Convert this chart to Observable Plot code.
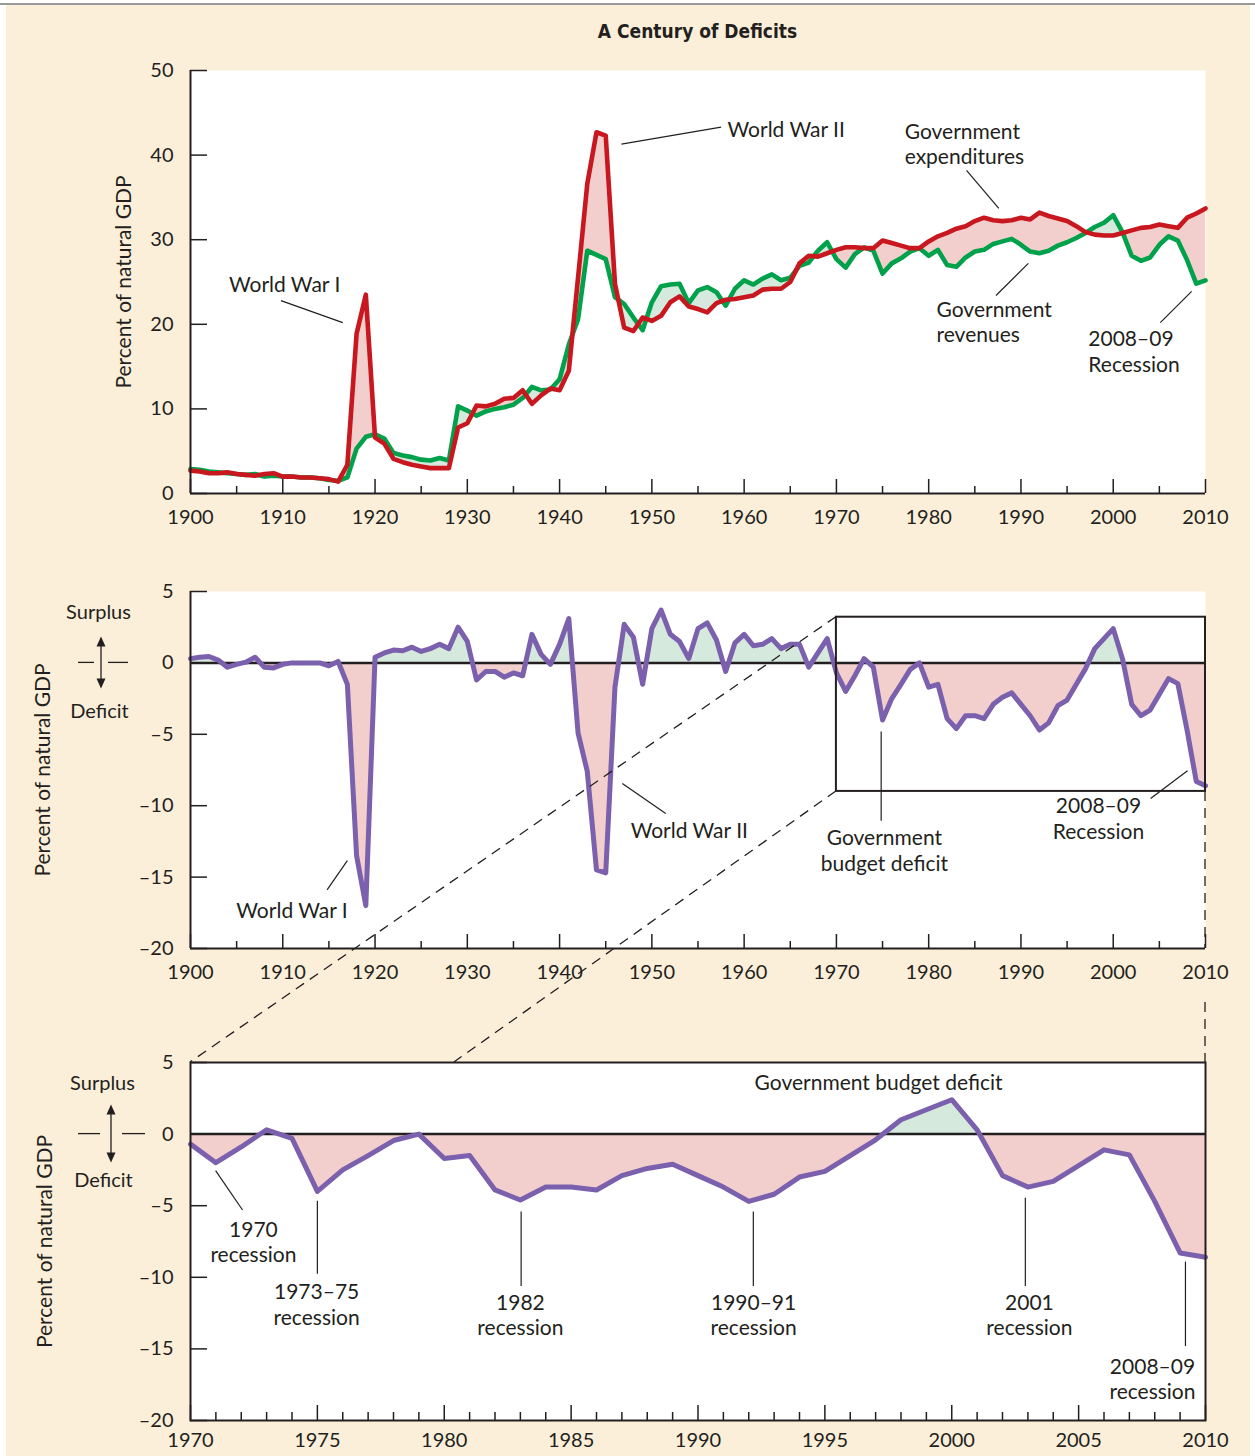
<!DOCTYPE html>
<html>
<head>
<meta charset="utf-8">
<script src="https://cdn.jsdelivr.net/npm/d3@7"></script>
<script src="https://cdn.jsdelivr.net/npm/@observablehq/plot@0.6"></script>
<style>
html, body { margin: 0; padding: 0; background: #ffffff; }
#page { position: relative; width: 1255px; height: 1456px; overflow: hidden; }
#bg { position: absolute; left: 6px; top: 5px; width: 1244px; height: 1451px; background: #fcefd9; }
#rule { position: absolute; left: 0; top: 3px; width: 1255px; height: 2px; background: #9a9a9a; }
#title { position: absolute; left: 190px; width: 1015px; top: 20px; line-height: 22px; text-align: center;
  font: bold 19px "Liberation Sans Narrow", "DejaVu Sans Condensed", sans-serif; color: #231f20; }
#page svg { position: absolute; left: 0; top: 0; }
</style>
</head>
<body>
<div id="page"><div id="bg"></div><div id="rule"></div><div id="title">A Century of Deficits</div></div>
<script>
// ---------------- DATA (percent of natural GDP) ----------------
const years = d3.range(1900, 2011);
const expenditures = [
  2.7, 2.6, 2.4, 2.4, 2.5, 2.3, 2.2, 2.1, 2.3, 2.4,
  2.0, 2.0, 1.9, 1.9, 1.8, 1.7, 1.4, 3.4, 18.9, 23.5,
  6.6, 5.9, 4.1, 3.7, 3.4, 3.2, 3.0, 3.0, 3.0, 7.8,
  8.3, 10.4, 10.3, 10.6, 11.2, 11.3, 12.2, 10.6, 11.6, 12.4,
  12.2, 14.5, 25.5, 36.6, 42.7, 42.3, 24.8, 19.6, 19.2, 20.8,
  20.4, 21.0, 22.6, 23.3, 22.1, 21.8, 21.4, 22.5, 22.9, 23.0,
  23.2, 23.4, 24.1, 24.2, 24.2, 25.0, 27.2, 28.1, 28.0, 28.4,
  28.8, 29.1, 29.1, 29.0, 29.0, 29.9, 29.6, 29.3, 29.0, 29.0,
  29.8, 30.4, 30.8, 31.3, 31.6, 32.2, 32.6, 32.3, 32.2, 32.3,
  32.6, 32.4, 33.2, 32.8, 32.5, 32.2, 31.6, 30.9, 30.6, 30.5,
  30.5, 30.8, 31.1, 31.4, 31.5, 31.8, 31.6, 31.4, 32.6, 33.1, 33.7
];
const revenues = [
  2.9, 2.8, 2.6, 2.5, 2.4, 2.3, 2.2, 2.3, 2.0, 2.1,
  2.0, 2.0, 1.9, 1.9, 1.8, 1.6, 1.5, 1.9, 5.3, 6.7,
  7.0, 6.5, 4.8, 4.5, 4.3, 4.0, 3.9, 4.2, 3.9, 10.3,
  9.8, 9.2, 9.7, 10.0, 10.2, 10.5, 11.3, 12.6, 12.2, 12.3,
  13.5, 17.6, 20.6, 28.7, 28.2, 27.7, 23.2, 22.4, 20.8, 19.3,
  22.6, 24.5, 24.7, 24.8, 22.5, 24.0, 24.4, 23.8, 22.2, 24.2,
  25.2, 24.7, 25.4, 25.9, 25.2, 25.5, 26.9, 27.3, 28.7, 29.7,
  27.7, 26.7, 28.3, 29.1, 28.7, 26.0, 27.2, 27.8, 28.6, 29.0,
  28.1, 28.8, 27.0, 26.8, 27.9, 28.6, 28.8, 29.5, 29.8, 30.1,
  29.4, 28.6, 28.4, 28.7, 29.3, 29.7, 30.2, 30.8, 31.5, 32.0,
  32.9, 30.9, 28.1, 27.5, 27.9, 29.4, 30.4, 29.9, 27.6, 24.8, 25.2
];
const deficit = [
  0.3, 0.4, 0.45, 0.2, -0.3, -0.1, 0.05, 0.4, -0.3, -0.35,
  -0.1, 0, 0, 0, 0, -0.2, 0.1, -1.5, -13.5, -17.0,
  0.4, 0.7, 0.9, 0.85, 1.1, 0.8, 1.0, 1.3, 1.0, 2.5,
  1.5, -1.2, -0.6, -0.6, -1.0, -0.7, -0.9, 2.0, 0.6, -0.1,
  1.3, 3.1, -4.9, -7.6, -14.5, -14.7, -1.7, 2.7, 1.8, -1.5,
  2.4, 3.7, 2.0, 1.5, 0.3, 2.4, 2.8, 1.6, -0.6, 1.4,
  2.0, 1.2, 1.3, 1.7, 1.0, 1.3, 1.3, -0.3, 0.7, 1.7,
  -0.7, -2.0, -0.9, 0.3, -0.3, -4.0, -2.5, -1.5, -0.45, 0,
  -1.7, -1.5, -3.9, -4.6, -3.7, -3.7, -3.9, -2.9, -2.4, -2.1,
  -2.9, -3.7, -4.7, -4.2, -3.0, -2.6, -1.5, -0.4, 1.0, 1.7,
  2.4, 0.3, -2.9, -3.7, -3.3, -2.2, -1.1, -1.45, -4.7, -8.3, -8.6
];
const centuryYearTicks = d3.range(1900, 2011, 10);
const centuryHalfTicks = d3.range(1905, 2011, 10);
const levelTicks = [0, 10, 20, 30, 40, 50];
const balanceTicks = [5, 0, -5, -10, -15, -20];
const zoomYearLabels = d3.range(1970, 2011, 5);
const zoomYearMinor = d3.range(1971, 2010).filter(y => y % 5 !== 0);

// ---------------- STYLE ----------------
const ink = "#231f20";
const RED = "#c8171e", GREEN = "#00a14b", PURPLE = "#7b60ad", PINK = "#f2cfcc", MINT = "#d5eadc";
const W = 1255, H = 1456;
const FONT = "Lato, 'Open Sans', sans-serif";
const fmt = d => d < 0 ? "\u2013" + Math.abs(d) : String(d);
const base = {
  width: W, height: H, marginLeft: 190, marginRight: 50,
  style: {background: "transparent", fontFamily: FONT, fontSize: "20px", color: ink, overflow: "visible"}
};
const FW = 1205 - 190;

// geometry helper: add points where series a crosses series b (for two-colour fills only)
function withCrossings(xs, a, b) {
  const rows = [];
  for (let i = 0; i < xs.length; i++) {
    if (i > 0) {
      const d0 = a[i - 1] - b[i - 1], d1 = a[i] - b[i];
      if (d0 * d1 < 0) {
        const t = d0 / (d0 - d1);
        const x = xs[i - 1] + t * (xs[i] - xs[i - 1]);
        const v = b[i - 1] + t * (b[i] - b[i - 1]);
        rows.push({x, a: v, b: v});
      }
    }
    rows.push({x: xs[i], a: a[i], b: b[i]});
  }
  return rows;
}
const note = (rows, opts = {}) => Plot.text(rows, {x: "x", y: "y", text: "t", fill: ink, fontSize: 21, lineHeight: 1.2, fontFamily: FONT, ...opts});
const leader = (rows) => Plot.link(rows, {x1: "x1", y1: "y1", x2: "x2", y2: "y2", stroke: ink, strokeWidth: 1.2});
const yTitle = (dx) => Plot.text(["Percent of natural GDP"], {frameAnchor: "left", dx, rotate: -90, textAnchor: "middle", fontSize: 21, fill: ink});

const page = document.getElementById("page");

// ---------------- TOP PANEL ----------------
const topRows = years.map((year, i) => ({year, rev: revenues[i], exp: expenditures[i]}));
const topFill = withCrossings(years, expenditures, revenues);
const TH = 493 - 70;
const topPlot = Plot.plot({
  ...base, marginTop: 70, marginBottom: H - 493,
  x: {domain: [1900, 2010], label: null},
  y: {domain: [0, 50], label: null},
  marks: [
    Plot.frame({fill: "white", stroke: "none"}),
    Plot.areaY(topFill, {x: "x", y1: "b", y2: d => Math.max(d.a, d.b), fill: PINK}),
    Plot.areaY(topFill, {x: "x", y1: "a", y2: d => Math.max(d.a, d.b), fill: MINT}),
    Plot.lineY(topRows, {x: "year", y: "rev", stroke: GREEN, strokeWidth: 4.6}),
    Plot.lineY(topRows, {x: "year", y: "exp", stroke: RED, strokeWidth: 4.6}),
    Plot.ruleX([1900], {stroke: ink, strokeWidth: 2}),
    Plot.ruleY([0], {stroke: ink, strokeWidth: 2}),
    Plot.tickX(centuryHalfTicks, {x: d => d, stroke: ink, strokeWidth: 1.5, insetTop: TH - 7}),
    Plot.tickX(centuryYearTicks, {x: d => d, stroke: ink, strokeWidth: 1.5, insetTop: TH - 14}),
    Plot.tickY(levelTicks, {y: d => d, stroke: ink, strokeWidth: 1.5, insetRight: FW - 17}),
    Plot.axisX({ticks: centuryYearTicks, tickSize: 0, tickPadding: 16, tickFormat: fmt, fontSize: 20, fill: ink, label: null}),
    Plot.axisY({ticks: levelTicks, tickSize: 0, tickPadding: 17, tickFormat: fmt, fontSize: 20, fill: ink, label: null}),
    yTitle(-66),
    note([{x: 1910.2, y: 24.8, t: "World War I"}]),
    leader([{x1: 1909.8, y1: 22.8, x2: 1916.5, y2: 20.2}]),
    note([{x: 1958.2, y: 43.1, t: "World War II"}], {textAnchor: "start"}),
    leader([{x1: 1946.7, y1: 41.3, x2: 1957.5, y2: 43.3}]),
    note([{x: 1977.4, y: 41.4, t: "Government\nexpenditures"}], {textAnchor: "start"}),
    leader([{x1: 1984.1, y1: 38.2, x2: 1987.6, y2: 33.7}]),
    note([{x: 1980.85, y: 20.3, t: "Government\nrevenues"}], {textAnchor: "start"}),
    leader([{x1: 1990.8, y1: 27.2, x2: 1987.3, y2: 23.4}]),
    note([{x: 1997.3, y: 16.85, t: "2008\u201309\nRecession"}], {textAnchor: "start"}),
    leader([{x1: 2005.1, y1: 20.2, x2: 2008.5, y2: 23.9}])
  ]
});
page.appendChild(topPlot);

// ---------------- MIDDLE PANEL ----------------
const zeros = years.map(() => 0);
const defRows = years.map((year, i) => ({year, d: deficit[i]}));
const defFill = withCrossings(years, deficit, zeros);
const MH = 948 - 591;
const midPlot = Plot.plot({
  ...base, marginTop: 591, marginBottom: H - 948,
  x: {domain: [1900, 2010], label: null},
  y: {domain: [-20, 5], label: null},
  marks: [
    Plot.frame({fill: "white", stroke: "none"}),
    Plot.areaY(defFill, {x: "x", y1: 0, y2: d => Math.min(d.a, 0), fill: PINK}),
    Plot.areaY(defFill, {x: "x", y1: 0, y2: d => Math.max(d.a, 0), fill: MINT}),
    Plot.ruleY([0], {stroke: ink, strokeWidth: 2.5}),
    Plot.lineY(defRows, {x: "year", y: "d", stroke: PURPLE, strokeWidth: 5}),
    Plot.rect([{x1: 1970, x2: 2010, y1: -9, y2: 3.2}], {x1: "x1", x2: "x2", y1: "y1", y2: "y2", fill: "none", stroke: ink, strokeWidth: 2}),
    Plot.ruleX([1900], {stroke: ink, strokeWidth: 2}),
    Plot.ruleY([-20], {stroke: ink, strokeWidth: 2}),
    Plot.tickX(centuryHalfTicks, {x: d => d, stroke: ink, strokeWidth: 1.5, insetTop: MH - 7}),
    Plot.tickX(centuryYearTicks, {x: d => d, stroke: ink, strokeWidth: 1.5, insetTop: MH - 14}),
    Plot.tickY(balanceTicks, {y: d => d, stroke: ink, strokeWidth: 1.5, insetRight: FW - 17}),
    Plot.axisX({ticks: centuryYearTicks, tickSize: 0, tickPadding: 16, tickFormat: fmt, fontSize: 20, fill: ink, label: null}),
    Plot.axisY({ticks: balanceTicks, tickSize: 0, tickPadding: 17, tickFormat: fmt, fontSize: 20, fill: ink, label: null}),
    yTitle(-147),
    Plot.text(["Surplus"], {frameAnchor: "left", y: 3.5, dx: -92, textAnchor: "middle", fontSize: 20, fill: ink}),
    Plot.text(["Deficit"], {frameAnchor: "left", y: -3.4, dx: -91, textAnchor: "middle", fontSize: 20, fill: ink}),
    note([{x: 1911, y: -17.3, t: "World War I"}]),
    leader([{x1: 1914.8, y1: -15.9, x2: 1917, y2: -13.85}]),
    note([{x: 1947.7, y: -11.7, t: "World War II"}], {textAnchor: "start"}),
    leader([{x1: 1946.8, y1: -8.45, x2: 1951.5, y2: -10.55}]),
    note([{x: 1975.2, y: -13.1, t: "Government\nbudget deficit"}]),
    leader([{x1: 1974.85, y1: -4.8, x2: 1974.85, y2: -11.05}]),
    note([{x: 1998.4, y: -10.85, t: "2008\u201309\nRecession"}]),
    leader([{x1: 2004.05, y1: -9.5, x2: 2008.05, y2: -7.55}])
  ]
});
page.appendChild(midPlot);

// ---------------- BOTTOM PANEL ----------------
const zYears = years.filter(y => y >= 1970);
const zDef = deficit.slice(years.indexOf(1970));
const zRows = zYears.map((year, i) => ({year, d: zDef[i]}));
const zFill = withCrossings(zYears, zDef, zYears.map(() => 0));
const BH = 1420 - 1062;
const botPlot = Plot.plot({
  ...base, marginTop: 1062, marginBottom: H - 1420,
  x: {domain: [1970, 2010], label: null},
  y: {domain: [-20, 5], label: null},
  marks: [
    Plot.frame({fill: "white", stroke: "none"}),
    Plot.areaY(zFill, {x: "x", y1: 0, y2: d => Math.min(d.a, 0), fill: PINK}),
    Plot.areaY(zFill, {x: "x", y1: 0, y2: d => Math.max(d.a, 0), fill: MINT}),
    Plot.ruleY([0], {stroke: ink, strokeWidth: 2.5}),
    Plot.lineY(zRows, {x: "year", y: "d", stroke: PURPLE, strokeWidth: 5}),
    Plot.tickX(zoomYearMinor, {x: d => d, stroke: ink, strokeWidth: 1.5, insetTop: BH - 8}),
    Plot.tickX(zoomYearLabels, {x: d => d, stroke: ink, strokeWidth: 1.5, insetTop: BH - 15}),
    Plot.tickY(balanceTicks, {y: d => d, stroke: ink, strokeWidth: 1.5, insetRight: FW - 17}),
    Plot.frame({stroke: ink, strokeWidth: 2}),
    Plot.axisX({ticks: zoomYearLabels, tickSize: 0, tickPadding: 12, tickFormat: fmt, fontSize: 20, fill: ink, label: null}),
    Plot.axisY({ticks: balanceTicks, tickSize: 0, tickPadding: 17, tickFormat: fmt, fontSize: 20, fill: ink, label: null}),
    yTitle(-145),
    Plot.text(["Surplus"], {frameAnchor: "left", y: 3.5, dx: -88, textAnchor: "middle", fontSize: 20, fill: ink}),
    Plot.text(["Deficit"], {frameAnchor: "left", y: -3.25, dx: -87, textAnchor: "middle", fontSize: 20, fill: ink}),
    note([{x: 1992.23, y: 3.67, t: "Government budget deficit"}], {textAnchor: "start"}),
    note([{x: 1972.48, y: -7.47, t: "1970\nrecession"}]),
    leader([{x1: 1970.99, y1: -2.55, x2: 1972.05, y2: -5.3}]),
    note([{x: 1974.97, y: -11.86, t: "1973\u201375\nrecession"}]),
    leader([{x1: 1975.0, y1: -4.65, x2: 1975.0, y2: -9.75}]),
    note([{x: 1983.0, y: -12.6, t: "1982\nrecession"}]),
    leader([{x1: 1983.03, y1: -5.4, x2: 1983.03, y2: -10.6}]),
    note([{x: 1992.19, y: -12.6, t: "1990\u201391\nrecession"}]),
    leader([{x1: 1992.18, y1: -5.4, x2: 1992.18, y2: -10.6}]),
    note([{x: 2003.06, y: -12.6, t: "2001\nrecession"}]),
    leader([{x1: 2002.9, y1: -4.45, x2: 2002.9, y2: -10.6}]),
    note([{x: 2007.91, y: -17.07, t: "2008\u201309\nrecession"}]),
    leader([{x1: 2009.21, y1: -8.9, x2: 2009.21, y2: -14.8}])
  ]
});
page.appendChild(botPlot);

// ---------------- OVERLAY: zoom connectors and surplus/deficit arrows ----------------
const mx = midPlot.scale("x"), my = midPlot.scale("y");
const bx = botPlot.scale("x"), by = botPlot.scale("y");
const ov = d3.select(page).append("svg").attr("width", W).attr("height", H)
  .style("position", "absolute").style("left", 0).style("top", 0);
const dash = "10,7";
const connectors = [
  [mx.apply(1970), my.apply(3.2), bx.apply(1970), by.apply(5)],
  [mx.apply(1970), my.apply(-9), bx.apply(1980.4), by.apply(5)],
  [mx.apply(2010), my.apply(-9), mx.apply(2010), my.apply(-20)],
  [bx.apply(2010), my.apply(-20) + 54, bx.apply(2010), by.apply(5)]
];
for (const [x1, y1, x2, y2] of connectors) {
  ov.append("line").attr("x1", x1).attr("y1", y1).attr("x2", x2).attr("y2", y2)
    .attr("stroke", ink).attr("stroke-width", 1.3).attr("stroke-dasharray", dash);
}
function upDown(cx, cy, half, leftDash, rightDash) {
  const g = ov.append("g").attr("stroke", ink).attr("fill", ink);
  g.append("line").attr("x1", cx).attr("x2", cx).attr("y1", cy - half + 8).attr("y2", cy + half - 8).attr("stroke-width", 1.3);
  g.append("path").attr("stroke", "none").attr("d", `M${cx},${cy - half} L${cx - 4.5},${cy - half + 10} L${cx + 4.5},${cy - half + 10} Z`);
  g.append("path").attr("stroke", "none").attr("d", `M${cx},${cy + half} L${cx - 4.5},${cy + half - 10} L${cx + 4.5},${cy + half - 10} Z`);
  g.append("line").attr("x1", leftDash[0]).attr("x2", leftDash[1]).attr("y1", cy).attr("y2", cy).attr("stroke-width", 1.3);
  g.append("line").attr("x1", rightDash[0]).attr("x2", rightDash[1]).attr("y1", cy).attr("y2", cy).attr("stroke-width", 1.3);
}
{
  const x0 = mx.apply(1900), y0 = my.apply(0);
  upDown(x0 - 89, y0, 26, [x0 - 112, x0 - 96], [x0 - 82, x0 - 62]);
  const z0 = bx.apply(1970), w0 = by.apply(0);
  upDown(z0 - 79, w0, 29, [z0 - 112, z0 - 90], [z0 - 68, z0 - 45]);
}
</script>
</body>
</html>
